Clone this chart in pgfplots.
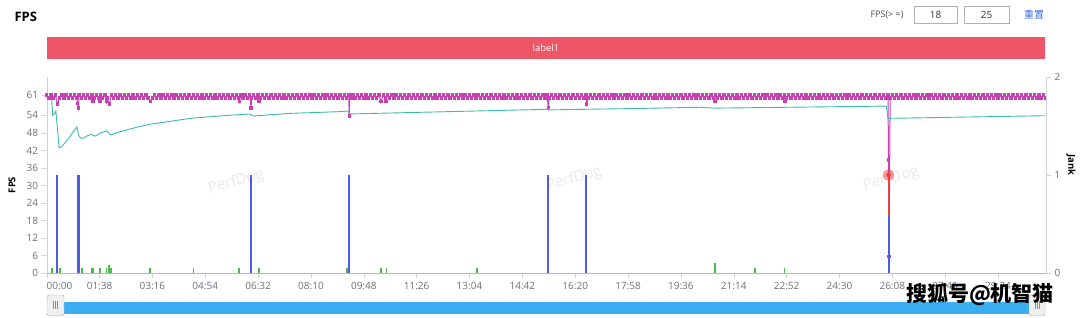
\documentclass[border=0pt]{standalone}
\usepackage{fontspec}
\setmainfont{Open Sans}
\newfontfamily\cjk{Noto Sans CJK SC}
\usepackage{pgfplots}
\pgfplotsset{compat=1.18}
\definecolor{magC}{HTML}{C940B2}
\definecolor{tealC}{HTML}{3BBBAD}
\definecolor{blueC}{HTML}{4E5BE3}
\definecolor{greenC}{HTML}{4DB84E}
\definecolor{orangeC}{HTML}{F4A77E}
\definecolor{redC}{HTML}{E8403A}
\definecolor{redbar}{HTML}{EE5566}
\definecolor{sliderC}{HTML}{3AAEF0}
\definecolor{axisgray}{HTML}{CCD3DC}
\definecolor{labelgray}{HTML}{6E7079}
\definecolor{linkC}{HTML}{3B6CE0}
\begin{document}
\begin{tikzpicture}
\path[use as bounding box] (0,0) rectangle (1080pt,317pt);
% header
\node[anchor=west,font=\fontsize{13}{15}\selectfont\bfseries] at (11pt,300pt) {FPS};
\node[font=\fontsize{9}{11}\selectfont,text=black!70] at (887pt,302.5pt) {FPS(> =)};
\draw[black!30] (914pt,310.5pt) rectangle (957pt,294.3pt);
\draw[black!30] (964pt,310.5pt) rectangle (1009pt,294.3pt);
\node[font=\fontsize{10}{12}\selectfont,text=black!80] at (935.5pt,302.4pt) {18};
\node[font=\fontsize{10}{12}\selectfont,text=black!80] at (986.5pt,302.4pt) {25};
\node[font=\fontsize{10}{12}\selectfont\cjk,text=linkC] at (1034pt,302.4pt) {重置};
\fill[redbar] (46.7pt,280pt) rectangle (1045pt,258pt);
\node[font=\fontsize{9.5}{11}\selectfont,text=white] at (546pt,269pt) {label1};
% watermarks
\node[rotate=15,font=\fontsize{15}{17}\selectfont,text=black!9] at (236pt,135pt) {PerfDog};
\node[rotate=15,font=\fontsize{15}{17}\selectfont,text=black!9] at (574pt,138pt) {PerfDog};
\node[rotate=15,font=\fontsize{15}{17}\selectfont,text=black!9] at (891pt,138pt) {PerfDog};
% axis labels
\node[rotate=90,font=\fontsize{9.5}{11}\selectfont\bfseries] at (12pt,132pt) {FPS};
\node[rotate=-90,font=\fontsize{9.5}{11}\selectfont\bfseries] at (1071pt,152pt) {Jank};
\begin{axis}[
  at={(46.7pt,44pt)}, anchor=south west, scale only axis,
  width=999.3pt, height=196pt,
  xmin=0, xmax=1853, ymin=0, ymax=67.17,
  axis x line*=bottom, axis y line*=left,
  axis line style={draw=axisgray},
  tick align=outside, major tick length=5pt,
  tick style={draw=axisgray, thin},
  xtick={0,98,196,294,392,490,588,686,784,882,980,1078,1176,1274,1372,1470,1568,1666,1764},
  xticklabels={\makebox[0pt][l]{00:00},01:38,03:16,04:54,06:32,08:10,09:48,11:26,13:04,14:42,16:20,17:58,19:36,21:14,22:52,24:30,26:08,27:46,29:24},
  ytick={0,6,12,18,24,30,36,42,48,54,61},
  ticklabel style={font=\fontsize{10}{12}\selectfont, text=labelgray},
  /pgf/number format/assume math mode=true,
  xticklabel style={yshift=-1pt},
]
% FPS (magenta)
\addplot[magC, line width=1pt, mark=square*, mark size=1.2pt, mark options={draw=magC,fill=magC,line width=0pt}] coordinates {
(0,61)(4,60)(8,61)(12,60)(16,61)(20,57.9)(24,60)(28,61)(32,60)(36,61)(40,60)(44,61)(48,60)(52,61)(56,60)(57,58)(59,56.6)(60,61)(64,60)(68,61)(72,60)(76,61)(80,60)(84,61)(86,58.7)(88,60)(92,61)(96,60)(99,58.7)(100,61)(104,60)(108,61)(111,58.7)(112,60)(116,57.9)
(120,61)(124,60)(128,61)(132,60)(136,61)(140,60)(144,61)(148,60)(152,61)(156,60)(160,61)(164,60)(168,61)(172,60)(176,61)(180,60)(184,61)(188,60)(192,58.7)(196,60)(200,61)(204,60)(208,61)(212,60)(216,61)(220,60)(224,61)(228,60)(232,61)(236,60)(240,61)(244,60)(248,61)(252,60)(256,61)(260,60)(264,61)(268,60)(272,61)(276,60)(280,61)(284,60)(288,61)(292,60)(296,61)(300,60)(304,61)(308,60)(312,61)(316,60)(320,61)(324,60)(328,61)(332,60)(336,61)(340,60)(344,61)(348,60)(352,61)(356,60)(357,58.7)(360,61)(364,60)(368,61)(372,60)(376,61)(379,56.6)(380,60)(384,61)(388,60)(392,61)(394,58.7)(396,60)(400,61)(404,60)(408,61)(412,60)(416,61)(420,60)(424,61)(428,60)(432,61)(436,60)(440,61)(444,60)(448,61)(452,60)(456,61)(460,60)(464,61)(468,60)(472,61)(476,60)(480,61)(484,60)(488,61)(492,60)(496,61)(500,60)(504,61)(508,60)(512,61)(516,60)(520,61)(524,60)(528,61)(532,60)(536,61)(540,60)(544,61)(548,60)(552,61)(556,60)(560,61)(561,53.8)(562,61)(564,60)(568,61)(572,60)(576,61)(580,60)(584,61)(588,60)(592,61)(596,60)(600,61)(604,60)(608,61)(612,60)(616,61)(620,58.7)(624,61)(628,60)(629,58.7)(632,61)(636,60)(640,61)(644,60)(648,61)(652,60)(656,61)(660,60)(664,61)(668,60)(672,61)(676,60)(680,61)(684,60)(688,61)(692,60)(696,61)(700,60)(704,61)(708,60)(712,61)(716,60)(720,61)(724,60)(728,61)(732,60)(736,61)(740,60)(744,61)(748,60)(752,61)(756,60)(760,61)(764,60)(768,61)(772,60)(776,61)(780,60)(784,61)(788,60)(792,61)(796,60)(800,61)(804,60)(808,61)(812,60)(816,61)(820,60)(824,61)(828,60)(832,61)(836,60)(840,61)(844,60)(848,61)(852,60)(856,61)(860,60)(864,61)(868,60)(872,61)(876,60)(880,61)(884,60)(888,61)(892,60)(896,61)(900,60)(904,61)(908,60)(912,61)(916,60)(920,61)(924,60)(928,61)(930,56.8)(932,60)(936,61)(940,60)(944,61)(948,60)(952,61)(956,60)(960,61)(964,60)(968,61)(972,60)(976,61)(980,60)(984,61)(988,60)(992,61)(996,60)(1000,61)(1001,57.9)(1004,60)(1008,61)(1012,60)(1016,61)(1020,60)(1024,61)(1028,60)(1032,61)(1036,60)(1040,61)(1044,60)(1048,61)(1052,60)(1056,61)(1060,60)(1064,61)(1068,60)(1072,61)(1076,60)(1080,61)(1084,60)(1088,61)(1092,60)(1096,61)(1100,60)(1104,61)(1108,60)(1112,61)(1116,60)(1120,61)(1124,60)(1128,61)(1132,60)(1136,61)(1140,60)(1144,61)(1148,60)(1152,61)(1156,60)(1160,61)(1164,60)(1168,61)(1172,60)(1176,61)(1180,60)(1184,61)(1188,60)(1192,61)(1196,60)(1200,61)(1204,60)(1208,61)(1212,60)(1216,61)(1220,60)(1224,61)(1228,60)(1232,61)(1236,60)(1239,58.7)(1240,61)(1244,60)(1248,61)(1252,60)(1256,61)(1260,60)(1264,61)(1268,60)(1272,61)(1276,60)(1280,61)(1284,60)(1288,61)(1292,60)(1296,61)(1300,60)(1304,61)(1308,60)(1312,61)(1316,60)(1320,61)(1324,60)(1328,61)(1332,60)(1336,61)(1340,60)(1344,61)(1348,60)(1352,61)(1356,60)(1360,61)(1364,60)(1368,61)(1369,58.7)(1372,60)(1376,61)(1380,60)(1384,61)(1388,60)(1392,61)(1396,60)(1400,61)(1404,60)(1408,61)(1412,60)(1416,61)(1420,60)(1424,61)(1428,60)(1432,61)(1436,60)(1440,61)(1444,60)(1448,61)(1452,60)(1456,61)(1460,60)(1464,61)(1468,60)(1472,61)(1476,60)(1480,61)(1484,60)(1488,61)(1492,60)(1496,61)(1500,60)(1504,61)(1508,60)(1512,61)(1516,60)(1520,61)(1524,60)(1528,61)(1532,60)(1536,61)(1540,60)(1544,61)(1548,60)(1552,61)(1556,60)(1560,61)(1561,38.7)(1562,5.6)(1564,60)(1568,61)(1572,60)(1576,61)(1580,60)(1584,61)(1588,60)(1592,61)(1596,60)(1600,61)(1604,60)(1608,61)(1612,60)(1616,61)(1620,60)(1624,61)(1628,60)(1632,61)(1636,60)(1640,61)(1644,60)(1648,61)(1652,60)(1656,61)(1660,60)(1664,61)(1668,60)(1672,61)(1676,60)(1680,61)(1684,60)(1688,61)(1692,60)(1696,61)(1700,60)(1704,61)(1708,60)(1712,61)(1716,60)(1720,61)(1724,60)(1728,61)(1732,60)(1736,61)(1740,60)(1744,61)(1748,60)(1752,61)(1756,60)(1760,61)(1764,60)(1768,61)(1772,60)(1776,61)(1780,60)(1784,61)(1788,60)(1792,61)(1796,60)(1800,61)(1804,60)(1808,61)(1812,60)(1816,61)(1820,60)(1824,61)(1828,60)(1832,61)(1836,60)(1840,61)(1844,60)(1848,61)(1852,60)
};
% average FPS (teal)
\addplot[tealC, line width=0.9pt] coordinates {
(0,60.1)(9,59.9)(11,54.1)(15,54.7)(17,55.5)(23,42.9)(28,43.3)(40,46)(56,50.1)(59,47.3)(63,46.2)(68,46.2)(75,47)(83,47.5)(90,46.9)(100,48)(111,48.7)(119,47.3)(130,48.1)(148,49)(170,50.1)(192,51)(230,52)(266,53)(327,53.9)(376,54.5)(383,53.8)(450,54.7)(544,55.3)(560,55.5)(561,54.5)(700,55.1)(929,56.1)(931,55.9)(1100,56.4)(1211,56.8)(1239,56.5)(1557,57.2)(1560,53)(1851,53.9)
};
% small jank (green)
\addplot[greenC, ycomb, line width=1.6pt] coordinates {
(10,1.6)(19,1.6)(25,1.6)(66,1.6)(83,1.6)(86,1.6)(99,1.6)(111,1.6)(116,2.7)(119,1.6)(192,1.6)(272,1.6)(357,1.6)(394,1.6)(557,1.6)(620,1.6)(630,1.6)(798,1.6)(1239,3.4)(1313,1.6)(1368,1.6)
};
% zero line (orange)
\addplot[orangeC, line width=1pt] coordinates {(0,0)(1853,0)};
\end{axis}
\begin{axis}[
  at={(46.7pt,44pt)}, anchor=south west, scale only axis,
  width=999.3pt, height=196pt,
  xmin=0, xmax=1853, ymin=0, ymax=2,
  axis x line=none, axis y line*=right,
  axis line style={draw=axisgray},
  tick align=outside, major tick length=5pt,
  tick style={draw=axisgray, thin},
  ytick={0,1,2},
  ticklabel style={font=\fontsize{10}{12}\selectfont, text=labelgray},
  /pgf/number format/assume math mode=true,
  clip=false,
]
% Jank (blue)
\addplot[blueC, ycomb, line width=2pt] coordinates {
(20,1)(58,1)(60.5,1)(378,1)(561,1)(930,1)(1000,1)(1561,1)
};
% big jank segment (red)
\addplot[redC, line width=2pt] coordinates {(1561,0.59)(1561,1)};
\addplot[redC, only marks, mark=*, mark size=5.5pt, opacity=0.5, mark options={draw=none, fill=redC}] coordinates {(1561,1)};
\addplot[redC, only marks, mark=*, mark size=2pt, mark options={draw=none, fill=redC}] coordinates {(1561,1)};
\end{axis}
% slider
\fill[sliderC] (47pt,15.5pt) rectangle (1045pt,3.5pt);
\draw[black!35, fill=black!6, rounded corners=1.5pt] (47pt,22pt) rectangle (64pt,1.5pt);
\foreach \xx in {53.5,55.5,57.5} \draw[black!45] (\xx pt,16pt) -- (\xx pt,8pt);
\draw[black!35, fill=black!6, rounded corners=1.5pt] (1029pt,22pt) rectangle (1045pt,1.5pt);
\foreach \xx in {1035,1037,1039} \draw[black!45] (\xx pt,16pt) -- (\xx pt,8pt);
% sohu watermark
\node[font=\fontsize{21}{23}\selectfont\cjk\bfseries] at (980pt,22pt) {搜狐号@机智猫};
\end{tikzpicture}
\end{document}
